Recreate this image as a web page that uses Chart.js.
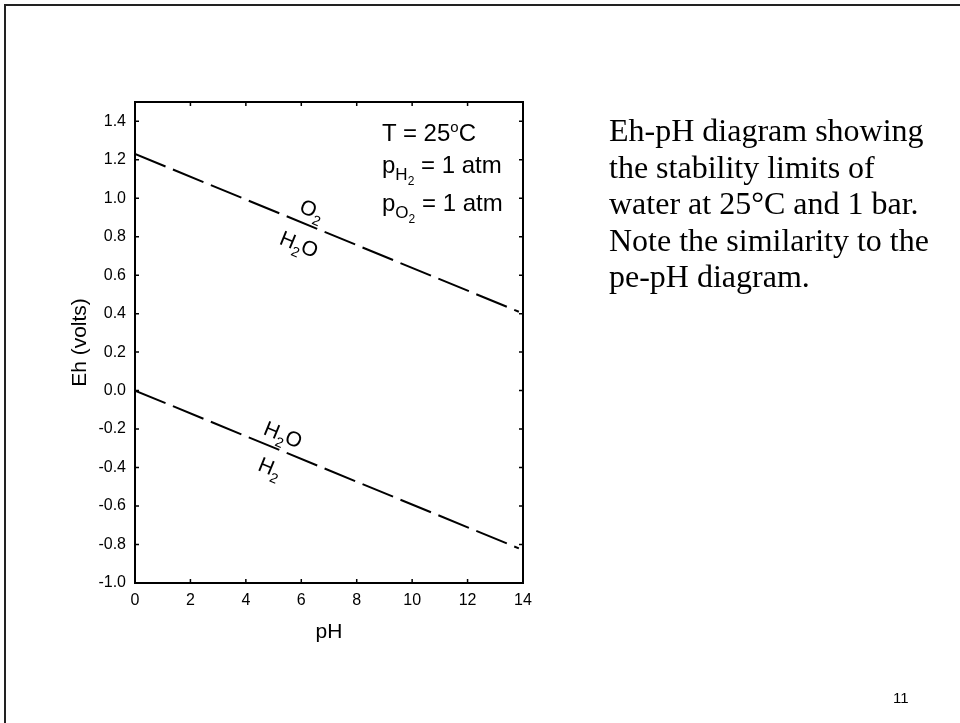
<!DOCTYPE html>
<html>
<head>
<meta charset="utf-8">
<script src="https://cdn.jsdelivr.net/npm/chart.js@4"></script>
<style>
  body { margin: 0; width: 960px; height: 723px; overflow: hidden; background: #fff; position: relative; font-family: "Liberation Sans", Arial, sans-serif; }
  #frame { position: absolute; left: 4px; top: 4px; width: 1000px; height: 800px; border-top: 2px solid #222; border-left: 2px solid #222; }
  #chart { position: absolute; left: 0; top: 0; }
  .cond { position: absolute; left: 382px; font-size: 24px; line-height: 24px; white-space: nowrap; color: #000; }
  .sub1 { position: relative; top: 7px; font-size: 17px; }
  .sub2 { position: relative; top: 5px; font-size: 12px; }
  .sup { position: relative; top: -9px; font-size: 15px; }
  #note { position: absolute; left: 609px; top: 112px; font-family: "Liberation Serif", "Times New Roman", serif; font-size: 32px; line-height: 36.5px; white-space: nowrap; color: #000; }
  #page { position: absolute; left: 893px; top: 690px; font-size: 15px; line-height: 15px; color: #000; }
</style>
</head>
<body>
<div id="frame"></div>
<canvas id="chart" width="960" height="723"></canvas>
<div class="cond" style="top:121px">T = 25<span class="sup">o</span>C</div>
<div class="cond" style="top:153px">p<span class="sub1">H<span class="sub2">2</span></span> = 1 atm</div>
<div class="cond" style="top:191px">p<span class="sub1">O<span class="sub2">2</span></span> = 1 atm</div>
<div id="note">Eh-pH diagram showing<br>the stability limits of<br>water at 25°C and 1 bar.<br>Note the similarity to the<br>pe-pH diagram.</div>
<div id="page">11</div>
<script>
// pH at the two ends of each boundary line
const phValues = [0, 13.85];
// upper boundary: O2 / H2O
const o2Boundary = [1.23, 0.41];
// lower boundary: H2O / H2
const h2Boundary = [0.0, -0.82];

const phTicks = [0, 2, 4, 6, 8, 10, 12, 14];
const ehTicks = [-1.0, -0.8, -0.6, -0.4, -0.2, 0.0, 0.2, 0.4, 0.6, 0.8, 1.0, 1.2, 1.4];

// species labels along the lines: [dataset index, pH, Eh, text parts]
const lineLabels = [
    [0, 6.39, 0.94, [['O', false], ['2', true]]],
    [0, 5.92, 0.76, [['H', false], ['2', true], ['O', false]]],
    [1, 5.34, -0.23, [['H', false], ['2', true], ['O', false]]],
    [1, 4.87, -0.40, [['H', false], ['2', true]]]
];

const toPoints = ys => phValues.map((x, i) => ({ x: x, y: ys[i] }));

const lineStyle = {
    borderColor: '#000',
    borderWidth: 2,
    borderDash: [33, 8],
    pointRadius: 0,
    showLine: true,
    fill: false
};

const frameTicks = {
    id: 'frameTicks',
    afterDraw(chart) {
        const { ctx, chartArea: a, scales } = chart;
        ctx.save();
        ctx.strokeStyle = '#000';
        ctx.lineWidth = 2;
        ctx.strokeRect(a.left, a.top, a.right - a.left, a.bottom - a.top);
        ctx.lineWidth = 1.5;
        ctx.beginPath();
        phTicks.forEach(v => {
            const px = scales.x.getPixelForValue(v);
            ctx.moveTo(px, a.bottom); ctx.lineTo(px, a.bottom - 4);
            ctx.moveTo(px, a.top); ctx.lineTo(px, a.top + 4);
        });
        ehTicks.forEach(v => {
            const py = scales.y.getPixelForValue(v);
            ctx.moveTo(a.left, py); ctx.lineTo(a.left + 4, py);
            ctx.moveTo(a.right, py); ctx.lineTo(a.right - 4, py);
        });
        ctx.stroke();

        // rotated species labels
        ctx.fillStyle = '#000';
        ctx.textBaseline = 'alphabetic';
        lineLabels.forEach(([ds, ph, eh, parts]) => {
            const pts = chart.getDatasetMeta(ds).data;
            const angle = Math.atan2(pts[1].y - pts[0].y, pts[1].x - pts[0].x);
            const fonts = parts.map(p => p[1] ? '14px "Liberation Sans", Arial' : '21px "Liberation Sans", Arial');
            let width = 0;
            parts.forEach((p, i) => { ctx.font = fonts[i]; width += ctx.measureText(p[0]).width; });
            ctx.save();
            ctx.translate(scales.x.getPixelForValue(ph), scales.y.getPixelForValue(eh));
            ctx.rotate(angle);
            let cx = -width / 2;
            parts.forEach((p, i) => {
                ctx.font = fonts[i];
                ctx.fillText(p[0], cx, p[1] ? 13 : 7);
                cx += ctx.measureText(p[0]).width;
            });
            ctx.restore();
        });
        ctx.restore();
    }
};

const chart = new Chart(document.getElementById('chart').getContext('2d'), {
    type: 'scatter',
    data: {
        datasets: [
            Object.assign({ label: 'O2/H2O', data: toPoints(o2Boundary) }, lineStyle),
            Object.assign({ label: 'H2O/H2', data: toPoints(h2Boundary) }, lineStyle)
        ]
    },
    options: {
        responsive: false,
        animation: false,
        layout: { padding: { left: 65, top: 102, right: 437, bottom: 78 } },
        scales: {
            x: {
                type: 'linear',
                min: 0,
                max: 14,
                afterFit: s => { s.height = 62; },
                afterBuildTicks: s => { s.ticks = phTicks.map(v => ({ value: v })); },
                grid: { display: false, drawTicks: false },
                border: { display: false },
                ticks: {
                    color: '#000',
                    padding: 8,
                    font: { family: '"Liberation Sans", Arial', size: 16 },
                    callback: v => String(v)
                },
                title: {
                    display: true,
                    text: 'pH',
                    color: '#000',
                    padding: { top: 0, bottom: 0 },
                    font: { family: '"Liberation Sans", Arial', size: 21 }
                }
            },
            y: {
                type: 'linear',
                min: -1.0,
                max: 1.5,
                afterFit: s => { s.width = 70; },
                afterBuildTicks: s => { s.ticks = ehTicks.map(v => ({ value: v })); },
                grid: { display: false, drawTicks: false },
                border: { display: false },
                ticks: {
                    color: '#000',
                    padding: 9,
                    font: { family: '"Liberation Sans", Arial', size: 16 },
                    callback: v => v.toFixed(1)
                },
                title: {
                    display: true,
                    text: 'Eh (volts)',
                    color: '#000',
                    padding: { top: 3, bottom: 0 },
                    font: { family: '"Liberation Sans", Arial', size: 21 }
                }
            }
        },
        plugins: {
            legend: { display: false },
            tooltip: { enabled: false }
        }
    },
    plugins: [frameTicks]
});
</script>
</body>
</html>
